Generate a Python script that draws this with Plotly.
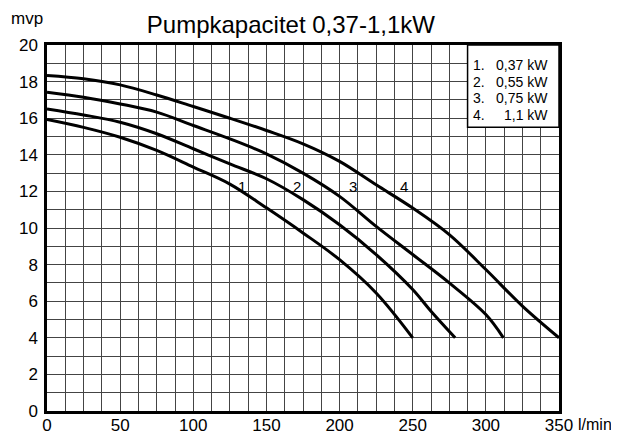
import plotly.graph_objects as go

# Data
c1_x = [0, 25, 50, 75, 100, 125, 150, 175, 200, 225, 250]
c1_y = [15.93, 15.5, 14.96, 14.24, 13.33, 12.4, 11.1, 9.73, 8.27, 6.45, 4.0]
c2_x = [0, 25, 50, 75, 100, 125, 150, 175, 200, 225, 250, 262.5, 279]
c2_y = [16.51, 16.18, 15.78, 15.15, 14.33, 13.5, 12.69, 11.55, 10.18, 8.55, 6.64, 5.45, 4.0]
c3_x = [0, 25, 50, 75, 100, 125, 150, 175, 200, 225, 250, 275, 300, 312]
c3_y = [17.42, 17.15, 16.78, 16.33, 15.6, 14.87, 14.05, 13.0, 11.73, 10.09, 8.55, 7.0, 5.27, 4.0]
c4_x = [0, 25, 50, 75, 100, 125, 150, 175, 200, 225, 250, 275, 300, 325, 350]
c4_y = [18.33, 18.15, 17.82, 17.27, 16.64, 16.0, 15.33, 14.6, 13.64, 12.36, 11.09, 9.64, 7.73, 5.73, 4.0]

curve_labels = ["1", "2", "3", "4"]
label_x = [133, 171, 209, 244]
label_y = [12.25, 12.25, 12.25, 12.25]

legend_nums = ["1.", "2.", "3.", "4."]
legend_vals = ["0,37 kW", "0,55 kW", "0,75 kW", "1,1 kW"]

title_text = "Pumpkapacitet 0,37-1,1kW"
y_unit = "mvp"
x_unit = "l/min"

FONT = "Liberation Sans, Arial, sans-serif"

fig = go.Figure()
for xs, ys in [(c1_x, c1_y), (c2_x, c2_y), (c3_x, c3_y), (c4_x, c4_y)]:
    fig.add_trace(go.Scatter(x=xs, y=ys, mode="lines",
                             line=dict(color="black", width=3, shape="spline", smoothing=1.0),
                             showlegend=False, hoverinfo="skip"))

for t, x, y in zip(curve_labels, label_x, label_y):
    fig.add_annotation(x=x, y=y, text=t, showarrow=False,
                       font=dict(size=15, color="black", family=FONT))

# legend box
fig.add_shape(type="rect", x0=287.5, x1=350, y0=15.5, y1=20, xref="x", yref="y",
              fillcolor="white", line=dict(color="black", width=1.5), layer="above")
legend_px_y = [65, 82, 98, 115]
for i, (n, v) in enumerate(zip(legend_nums, legend_vals)):
    yv = 20 - (legend_px_y[i] - 45) / 18.3
    fig.add_annotation(x=290, y=yv, text=n, showarrow=False, xanchor="left",
                       font=dict(size=14, color="black", family=FONT))
    fig.add_annotation(x=344, y=yv, text=v, showarrow=False, xanchor="right",
                       font=dict(size=14, color="black", family=FONT))

fig.add_annotation(xref="paper", yref="paper", x=0, y=1, xanchor="center", yanchor="bottom",
                   xshift=-20, yshift=15, text=y_unit, showarrow=False,
                   font=dict(size=17, color="black", family=FONT))
fig.add_annotation(xref="paper", yref="paper", x=1, y=0, xanchor="left", yanchor="middle",
                   xshift=17, yshift=-13, text=x_unit, showarrow=False,
                   font=dict(size=16, color="black", family=FONT))

grid_col = "#444444"
# page body adds an 8px offset, margins compensate for it
fig.update_layout(
    width=619, height=437,
    margin=dict(l=39, r=68, t=37, b=34, autoexpand=False),
    paper_bgcolor="white", plot_bgcolor="white",
    title=dict(text=title_text, x=0.457, xanchor="center", y=0.962, yanchor="middle",
               font=dict(size=24, color="black", family=FONT)),
    font=dict(family=FONT, color="black"),
    xaxis=dict(range=[0, 350], dtick=50, tick0=0, showgrid=True, gridcolor=grid_col, gridwidth=1,
               minor=dict(dtick=12.5, showgrid=True, gridcolor=grid_col, gridwidth=1),
               showline=True, linecolor="black", linewidth=2.5, mirror=True, automargin=False,
               ticks="", zeroline=False, ticklabelstandoff=-3,
               tickfont=dict(size=17, color="black", family=FONT)),
    yaxis=dict(range=[0, 20], dtick=2, tick0=0, showgrid=True, gridcolor=grid_col, gridwidth=1,
               minor=dict(dtick=1, showgrid=True, gridcolor=grid_col, gridwidth=1),
               showline=True, linecolor="black", linewidth=2.5, mirror=True, automargin=False,
               ticks="", zeroline=False, ticklabelstandoff=3,
               tickfont=dict(size=17, color="black", family=FONT)),
)

fig.write_html("out.html")
